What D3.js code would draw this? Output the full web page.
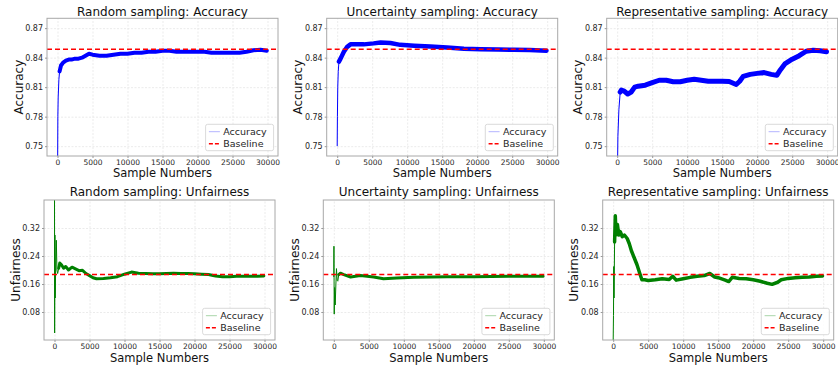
<!DOCTYPE html>
<html lang="en">
<head>
<meta charset="UTF-8" />
<title>Sampling strategies: accuracy and unfairness</title>
<style>
    html, body { margin: 0; background: #fff; }
    svg { display: block; font-family: "DejaVu Sans", sans-serif; }
    .grid line { stroke: #e6e6e6; stroke-dasharray: 2,1.5; stroke-width: 0.8; }
    .grid path { display: none; }
    .axis path { display: none; }
    .axis line { stroke: #9a9a9a; }
    .axis text { fill: #262626; font-size: 8px; font-family: "DejaVu Sans", sans-serif; }
    .xaxis text { font-size: 7.5px; }
    .frame { fill: none; stroke: #a8a8a8; stroke-width: 1; }
    .title { font-size: 12px; fill: #111; text-anchor: middle; }
    .label { font-size: 11.5px; fill: #111; text-anchor: middle; }
    .ylab { font-size: 12px; }
    .legend rect { fill: #fff; fill-opacity: 0.85; stroke: #d0d0d0; stroke-width: 0.8; }
    .legend text { font-size: 9.5px; fill: #262626; }
</style>
</head>
<body>
<svg id="chart" width="838" height="372"></svg>
<script src="https://d3js.org/d3.v7.min.js"></script>
<script>
// ticks
const xTicks = [0, 5000, 10000, 15000, 20000, 25000, 30000];
const accTicks = [0.75, 0.78, 0.81, 0.84, 0.87];
const unfTicks = [0.08, 0.16, 0.24, 0.32];
const accBaseline = 0.8485;
const unfBaseline = 0.187;

// random sampling: accuracy
const randAccX = [0, 50, 100, 200, 300, 500, 800, 1200, 1600, 2000, 2500, 3000, 3500, 4000, 4500, 5000, 6000, 7000, 8000, 9000, 10000, 11000, 12000, 13000, 14000, 15000, 16000, 17000, 18000, 19000, 20000, 21000, 22000, 23000, 24000, 25000, 26000, 27000, 28000, 29000, 29900];
const randAccY = [0.70, 0.78, 0.80, 0.818, 0.826, 0.832, 0.835, 0.837, 0.838, 0.838, 0.839, 0.839, 0.840, 0.842, 0.844, 0.843, 0.842, 0.842, 0.843, 0.844, 0.844, 0.845, 0.845, 0.846, 0.846, 0.847, 0.847, 0.846, 0.846, 0.846, 0.846, 0.846, 0.845, 0.845, 0.845, 0.845, 0.845, 0.846, 0.8475, 0.848, 0.847];

// uncertainty sampling: accuracy
const uncAccX = [0, 30, 80, 150, 250, 480, 950, 1430, 1900, 2800, 3800, 5200, 6200, 7600, 9000, 11000, 13300, 15700, 18100, 20500, 23000, 25200, 27500, 29900];
const uncAccY = [0.75, 0.78, 0.81, 0.826, 0.836, 0.839, 0.846, 0.851, 0.8535, 0.8535, 0.8535, 0.8545, 0.8555, 0.8548, 0.853, 0.8522, 0.8513, 0.8503, 0.849, 0.8486, 0.8483, 0.848, 0.8478, 0.847];

// representative sampling: accuracy
const repAccX = [0, 100, 240, 430, 600, 1000, 1500, 2000, 2500, 3000, 4000, 5000, 6000, 7000, 8000, 9000, 10000, 11000, 12000, 13000, 14000, 15000, 16000, 17000, 17500, 18000, 19000, 20000, 21000, 22000, 22800, 23300, 24000, 25000, 26000, 27000, 28000, 29000, 29900];
const repAccY = [0.70, 0.76, 0.787, 0.805, 0.807, 0.806, 0.803, 0.805, 0.810, 0.811, 0.812, 0.8145, 0.817, 0.817, 0.8155, 0.8155, 0.817, 0.818, 0.817, 0.816, 0.816, 0.816, 0.8157, 0.8127, 0.816, 0.821, 0.823, 0.824, 0.8248, 0.823, 0.822, 0.8275, 0.834, 0.8384, 0.842, 0.8465, 0.8475, 0.847, 0.846];

// random sampling: unfairness
const randUnfX = [0, 20, 60, 100, 180, 260, 350, 450, 600, 750, 1000, 1300, 1600, 2000, 2500, 3000, 3500, 4000, 4500, 5000, 5500, 6000, 7000, 8000, 9000, 10000, 11000, 12000, 13000, 14000, 15000, 16000, 17000, 18000, 19000, 20000, 21000, 22000, 23000, 24000, 25000, 26000, 27000, 28000, 29000, 29900];
const randUnfY = [0.40, 0.02, 0.30, 0.12, 0.22, 0.285, 0.20, 0.19, 0.205, 0.22, 0.215, 0.205, 0.21, 0.20, 0.208, 0.203, 0.198, 0.199, 0.19, 0.184, 0.178, 0.175, 0.176, 0.178, 0.181, 0.188, 0.194, 0.191, 0.190, 0.189, 0.189, 0.190, 0.191, 0.190, 0.190, 0.189, 0.188, 0.187, 0.183, 0.181, 0.181, 0.182, 0.182, 0.182, 0.182, 0.183];

// uncertainty sampling: unfairness
const uncUnfX = [0, 20, 60, 120, 200, 300, 380, 480, 570, 710, 950, 1430, 2400, 3800, 5700, 7100, 9000, 11400, 14000, 16200, 20000, 25000, 29900];
const uncUnfY = [0.18, 0.268, 0.074, 0.15, 0.10, 0.16, 0.204, 0.17, 0.168, 0.187, 0.191, 0.187, 0.180, 0.184, 0.180, 0.175, 0.177, 0.179, 0.180, 0.181, 0.181, 0.182, 0.182];

// representative sampling: unfairness
const repUnfX = [0, 40, 80, 120, 200, 300, 400, 600, 800, 1000, 1300, 1600, 2000, 2300, 2600, 3000, 3400, 3800, 4100, 4500, 5000, 6000, 7000, 8000, 8500, 9000, 10000, 11000, 12000, 13000, 13800, 14500, 15000, 16000, 16500, 17000, 18000, 19000, 20000, 21000, 22000, 22700, 23500, 24000, 25000, 26000, 27000, 28000, 29000, 29900];
const repUnfY = [0.0, 0.07, 0.21, 0.12, 0.28, 0.355, 0.30, 0.33, 0.30, 0.31, 0.295, 0.30, 0.29, 0.275, 0.255, 0.235, 0.215, 0.19, 0.172, 0.172, 0.17, 0.172, 0.175, 0.173, 0.182, 0.171, 0.175, 0.179, 0.182, 0.184, 0.19, 0.18, 0.178, 0.171, 0.167, 0.179, 0.176, 0.175, 0.172, 0.168, 0.162, 0.159, 0.165, 0.172, 0.176, 0.178, 0.179, 0.180, 0.182, 0.183];

const xDomain = [-1500, 31500];
const accDomain = [0.74, 0.88];
const unfDomain = [0, 0.4];

const panels = [
    { title: "Random sampling: Accuracy", ylabel: "Accuracy", xs: randAccX, ys: randAccY, left: 47, top: 18.3, h: 137.7, acc: true, band: 4, bandFrom: 250 },
    { title: "Uncertainty sampling: Accuracy", ylabel: "Accuracy", xs: uncAccX, ys: uncAccY, left: 326.7, top: 18.3, h: 137.7, acc: true, band: 4.5, bandFrom: 250 },
    { title: "Representative sampling: Accuracy", ylabel: "Accuracy", xs: repAccX, ys: repAccY, left: 606.7, top: 18.3, h: 137.7, acc: true, band: 5, bandFrom: 400 },
    { title: "Random sampling: Unfairness", ylabel: "Unfairness", xs: randUnfX, ys: randUnfY, left: 44, top: 200, h: 140, acc: false, band: 3, bandFrom: 600 },
    { title: "Uncertainty sampling: Unfairness", ylabel: "Unfairness", xs: uncUnfX, ys: uncUnfY, left: 323.3, top: 200, h: 140, acc: false, band: 3, bandFrom: 700 },
    { title: "Representative sampling: Unfairness", ylabel: "Unfairness", xs: repUnfX, ys: repUnfY, left: 602.7, top: 200, h: 140, acc: false, band: 3.5, bandFrom: 200 }
];

const W = 231;
const svg = d3.select("#chart");
svg.append("rect").attr("width", 838).attr("height", 372).attr("fill", "#fff");

panels.forEach((p, i) => {
    const color = p.acc ? "#0000ff" : "#008000";
    const legendColor = p.acc ? "#b4b4ff" : "#a9d6a9";
    const g = svg.append("g").attr("transform", `translate(${p.left},${p.top})`);
    const x = d3.scaleLinear().domain(xDomain).range([0, W]);
    const y = d3.scaleLinear().domain(p.acc ? accDomain : unfDomain).range([p.h, 0]);
    const yTicks = p.acc ? accTicks : unfTicks;

    // grid
    g.append("g")
        .attr("class", "grid")
        .attr("transform", `translate(0,${p.h})`)
        .call(d3.axisBottom(x).tickValues(xTicks).tickSize(-p.h).tickFormat(""));
    g.append("g")
        .attr("class", "grid")
        .call(d3.axisLeft(y).tickValues(yTicks).tickSize(-W).tickFormat(""));

    const clipId = "clip" + i;
    g.append("clipPath").attr("id", clipId)
        .append("rect").attr("width", W).attr("height", p.h);
    const plot = g.append("g").attr("clip-path", `url(#${clipId})`);

    const pts = p.xs.map((v, k) => [v, p.ys[k]]);
    const line = d3.line().x(d => x(d[0])).y(d => y(d[1]));

    plot.append("path")
        .attr("d", line(pts))
        .attr("fill", "none")
        .attr("stroke", color)
        .attr("stroke-width", 1);
    plot.append("path")
        .attr("d", line(pts.filter(d => d[0] >= p.bandFrom)))
        .attr("fill", "none")
        .attr("stroke", color)
        .attr("stroke-width", p.band)
        .attr("stroke-linejoin", "round")
        .attr("stroke-linecap", "round");

    const base = p.acc ? accBaseline : unfBaseline;
    g.append("line")
        .attr("x1", 0).attr("x2", W)
        .attr("y1", y(base)).attr("y2", y(base))
        .attr("stroke", "#ff0000")
        .attr("stroke-width", 1.5)
        .attr("stroke-dasharray", "5,3");

    g.append("rect").attr("class", "frame").attr("width", W).attr("height", p.h);

    // axes
    g.append("g")
        .attr("class", "axis xaxis")
        .attr("transform", `translate(0,${p.h})`)
        .call(d3.axisBottom(x).tickValues(xTicks).tickSize(2).tickPadding(1.5).tickFormat(d3.format("d")));
    g.append("g")
        .attr("class", "axis")
        .call(d3.axisLeft(y).tickValues(yTicks).tickSize(2).tickPadding(2).tickFormat(d3.format(".2f")));

    // title and labels
    g.append("text").attr("class", "title")
        .attr("x", W / 2).attr("y", p.acc ? -2.6 : -4)
        .text(p.title);
    g.append("text").attr("class", "label")
        .attr("x", W / 2).attr("y", p.h + 21.5)
        .text("Sample Numbers");
    g.append("text").attr("class", "label ylab")
        .attr("transform", `translate(-24.5,${p.h / 2}) rotate(-90)`)
        .text(p.ylabel);

    // legend
    const lg = g.append("g").attr("class", "legend")
        .attr("transform", `translate(${W - 4.4 - 68},${p.h - 5.3 - 26.4})`);
    lg.append("rect").attr("width", 68).attr("height", 26.4).attr("rx", 2);
    lg.append("line").attr("x1", 3.3).attr("x2", 14.3).attr("y1", 7.4).attr("y2", 7.4)
        .attr("stroke", legendColor).attr("stroke-width", 1);
    lg.append("line").attr("x1", 3.3).attr("x2", 14.3).attr("y1", 19.4).attr("y2", 19.4)
        .attr("stroke", "#ff0000").attr("stroke-width", 1.5).attr("stroke-dasharray", "4,2");
    lg.append("text").attr("x", 17.6).attr("y", 10.8).text("Accuracy");
    lg.append("text").attr("x", 17.6).attr("y", 22.8).text("Baseline");
});
</script>
</body>
</html>
